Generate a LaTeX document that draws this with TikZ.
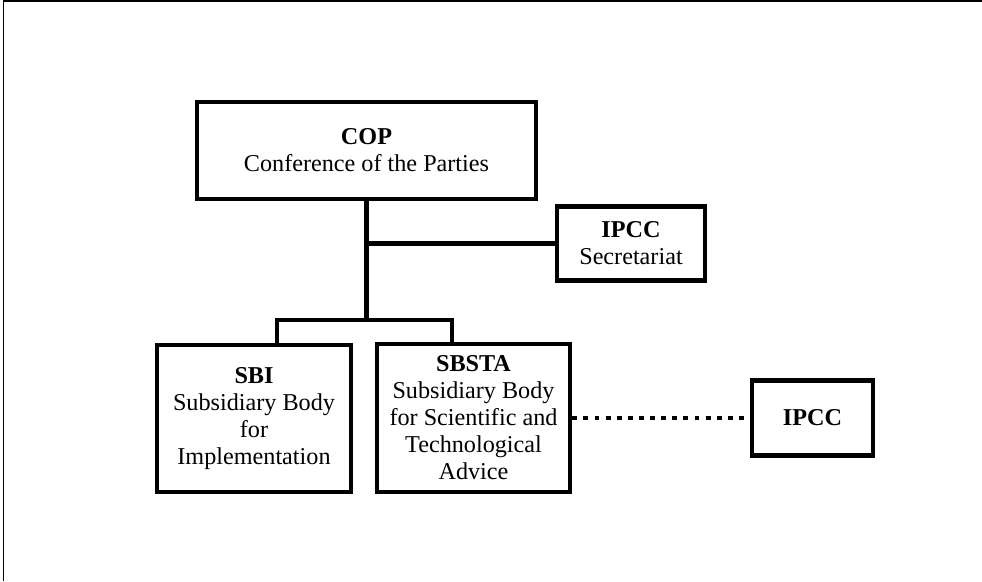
\documentclass[tikz,border=0pt]{standalone}
\usepackage{fontspec}
\setmainfont{Liberation Serif}
\usepackage{tikz}

\tikzset{
  orgbox/.style={draw,line width=3.3pt,align=center,inner sep=0pt,
    font=\fontsize{17.2}{19.2}\selectfont},
  link/.style={line width=3.3pt},
  looselink/.style={line width=3pt,dash pattern=on 3.5pt off 4.4pt}
}

\begin{document}
\begin{tikzpicture}[x=0.025cm,y=-0.025cm]
  \useasboundingbox (0,0) rectangle (982,581);
  \draw[line width=1.05pt] (3.5,581) -- (3.5,1) -- (982,1);

  \node[orgbox,minimum width=8.475cm,minimum height=2.425cm] (cop) at (366.5,150.5) {\textbf{COP}\\Conference of the Parties};
  \node[orgbox,minimum width=3.7cm,minimum height=1.85cm] (sec) at (631,243.5) {\textbf{IPCC}\\Secretariat};
  \node[orgbox,minimum width=4.85cm,minimum height=3.675cm] (sbi) at (254,418.5) {\textbf{SBI}\\Subsidiary Body\\for\\Implementation};
  \node[orgbox,minimum width=4.825cm,minimum height=3.7cm] (sbsta) at (473.5,418) {\textbf{SBSTA}\\Subsidiary Body\\for Scientific and\\Technological\\Advice};
  \node[orgbox,minimum width=3.025cm,minimum height=1.875cm] (ipcc) at (812.5,418) {\textbf{IPCC}};

  \coordinate (tee) at (366.5,243.5);
  \coordinate (fork) at (366.5,320);
  \coordinate (forkL) at (277,320);
  \coordinate (forkR) at (452,320);

  \draw[link] (cop.south) -- (fork);
  \draw[link] (tee) -- (sec.west);
  \draw[link] (forkL |- sbi.north) -- (forkL) -- (forkR) -- (forkR |- sbsta.north);
  \draw[looselink] (sbsta.east) -- (ipcc.west);
\end{tikzpicture}
\end{document}
